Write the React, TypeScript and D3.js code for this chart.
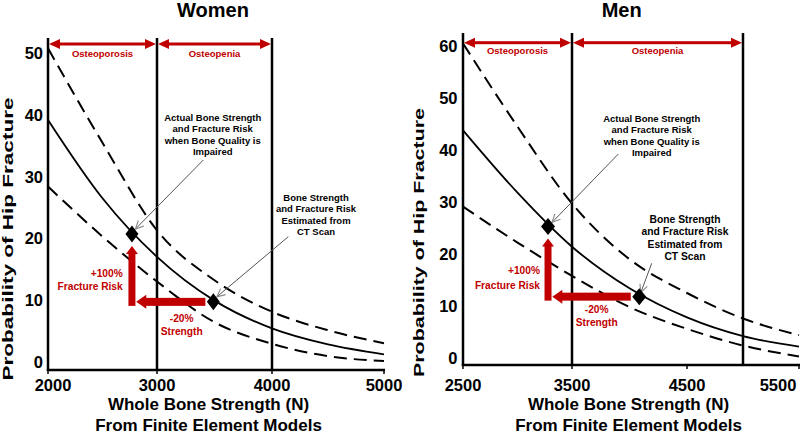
import React from "react";
import * as d3 from "d3";

// ---------- data ----------
const womenStrength = [2000, 2500, 3000, 3500, 4000, 4500, 5000];
const womenUpper = [50.8, 35.5, 21.3, 13.2, 8.1, 5.1, 3.0];
const womenMean = [39.2, 26.5, 17.0, 9.9, 5.4, 2.8, 1.2];
const womenLower = [28.4, 20.3, 13.0, 6.4, 2.9, 0.9, 0.1];
const womenXTicks = [2000, 3000, 4000, 5000];
const womenYTicks = [0, 10, 20, 30, 40, 50];
const womenBounds = [2000, 3000, 4000]; // osteoporosis | osteopenia limits
const womenCT = { strength: 3490, risk: 9.7 };
const womenActual = { strength: 2770, risk: 20.7 };

const menStrength = [2500, 3000, 3500, 4000, 4500, 5000, 5500];
const menUpper = [60.5, 44.5, 29.7, 19.0, 12.5, 7.6, 4.4];
const menMean = [43.8, 31.8, 21.4, 13.4, 7.8, 4.2, 2.2];
const menLower = [29.1, 22.2, 15.8, 9.8, 5.6, 2.4, 0.3];
const menXTicks = [2500, 3500, 4500, 5500];
const menYTicks = [0, 10, 20, 30, 40, 50, 60];
const menBounds = [2500, 3500, 5000];
const menCT = { strength: 4085, risk: 11.8 };
const menActual = { strength: 3280, risk: 25.3 };

const rangeNames = ["Osteoporosis", "Osteopenia"];
const actualNote = ["Actual Bone Strength", "and Fracture Risk", "when Bone Quality is", "Impaired"];
const ctNote = ["Bone Strength", "and Fracture Risk", "Estimated from", "CT Scan"];
const riskNote = ["+100%", "Fracture Risk"];
const strengthNote = ["-20%", "Strength"];
const yTitle = "Probability of Hip Fracture";
const xTitle = ["Whole Bone Strength (N)", "From Finite Element Models"];

// ---------- styles / layout ----------
const FONT = '"Liberation Sans", Arial, Helvetica, sans-serif';
const RED = "#C00000";

const panels = [
  {
    title: "Women",
    strength: womenStrength, upper: womenUpper, mean: womenMean, lower: womenLower,
    xTicks: womenXTicks, yTicks: womenYTicks, bounds: womenBounds,
    ct: womenCT, actual: womenActual,
    layout: {
      titleX: 213, titleY: 17,
      xRange: [48, 157, 272, 384], yRange: [361.7, 53.3],
      axisY: 370, lineTop: 38, rangeY: 44, rangeLabelY: 57.4,
      yTickX: 43, yLabelX: 13, yLabelCY: 239, yLabelLen: 283,
      xTickY: 390.8, xClamp: [53, 800], xTitleX: 208.5, xTitleY: [410, 430.5],
      actual: { x: 212.7, y: 120.7, size: 9.5, lh: 11.4, from: [203.3, 160], off: [3.5, -5] },
      ct: { x: 316, y: 200.7, size: 9.5, lh: 11.4, from: [288.3, 236.7], off: [3.5, -5] },
      risk: { x: 122.7, y: 277, lh: 13.4 },
      str: { x: 181.7, y: 322, lh: 13.4 },
      diamond: [6.5, 8.5],
    },
  },
  {
    title: "Men",
    strength: menStrength, upper: menUpper, mean: menMean, lower: menLower,
    xTicks: menXTicks, yTicks: menYTicks, bounds: menBounds,
    ct: menCT, actual: menActual,
    layout: {
      titleX: 621.7, titleY: 17,
      xRange: [463, 572, 687, 799], yRange: [358, 46],
      axisY: 365, lineTop: 33, rangeY: 42.7, rangeLabelY: 54,
      yTickX: 457.5, yLabelX: 424, yLabelCY: 242.5, yLabelLen: 269,
      xTickY: 390.5, xClamp: [0, 778], xTitleX: 628.5, xTitleY: [410, 430.5],
      actual: { x: 651.7, y: 121.7, size: 9.5, lh: 11.5, from: [618.3, 154], off: [4, -4] },
      ct: { x: 685, y: 223, size: 10.3, lh: 12.4, from: [651.7, 263.3], off: [1.5, -4] },
      risk: { x: 540, y: 274.3, lh: 14.3 },
      str: { x: 596.7, y: 313, lh: 13.4 },
      diamond: [7, 8.5],
    },
  },
];

function Txt({ x, y, size, anchor = "middle", fill = "#000", sy = 1, children }: any) {
  return (
    <text
      transform={`translate(${x},${y}) scale(1,${sy})`}
      fontSize={size}
      textAnchor={anchor}
      fill={fill}
      fontWeight="bold"
      fontFamily={FONT}
    >
      {children}
    </text>
  );
}

function DoubleArrow({ x1, x2, y }: any) {
  const hl = 11, hw = 5;
  return (
    <g fill={RED} stroke="none">
      <rect x={x1 + hl - 1} y={y - 1.5} width={x2 - x1 - 2 * hl + 2} height={3} />
      <polygon points={`${x1 + 1},${y} ${x1 + 1 + hl},${y - hw} ${x1 + 1 + hl},${y + hw}`} />
      <polygon points={`${x2 - 1},${y} ${x2 - 1 - hl},${y - hw} ${x2 - 1 - hl},${y + hw}`} />
    </g>
  );
}

function Pointer({ from, to }: any) {
  const [x1, y1] = from;
  const [x2, y2] = to;
  const ang = Math.atan2(y1 - y2, x1 - x2);
  const L = 9, a = 0.45;
  const p1 = [x2 + L * Math.cos(ang + a), y2 + L * Math.sin(ang + a)];
  const p2 = [x2 + L * Math.cos(ang - a), y2 + L * Math.sin(ang - a)];
  return (
    <g fill="none">
      <line x1={x1} y1={y1} x2={x2} y2={y2} stroke="#555" strokeWidth={1} />
      <polyline points={`${p1[0]},${p1[1]} ${x2},${y2} ${p2[0]},${p2[1]}`} stroke="#888" strokeWidth={1.1} />
    </g>
  );
}

function Panel({ p }: any) {
  const L = p.layout;
  const xs = d3.scaleLinear().domain(p.xTicks).range(L.xRange);
  const yMax = p.yTicks[p.yTicks.length - 1];
  const ys = d3.scaleLinear().domain([0, yMax]).range(L.yRange);
  const line = d3
    .line<number>()
    .x((_, i) => xs(p.strength[i]))
    .y((d) => ys(d))
    .curve(d3.curveMonotoneX);

  const x0 = xs(p.xTicks[0]);
  const xEnd = xs(p.xTicks[p.xTicks.length - 1]);
  const ax = xs(p.actual.strength), ay = ys(p.actual.risk);
  const cx = xs(p.ct.strength), cy = ys(p.ct.risk);
  const [dw, dh] = L.diamond;
  const diamond = (x: number, y: number) => `M${x},${y - dh} L${x + dw},${y} L${x},${y + dh} L${x - dw},${y} Z`;

  // red L-shaped arrows
  const vW = 7, vHeadW = 12, vHeadL = 8;
  const vTip = ay + dh + 3.5;
  const hT = 8, hHeadH = 14, hHeadL = 10;
  const hTip = ax + 4.3;
  const hRight = cx - dw - 1.5;
  const vBottom = cy + hT / 2;

  return (
    <g>
      <Txt x={L.titleX} y={L.titleY} size={20}>{p.title}</Txt>

      {/* curves */}
      <path d={line(p.upper) || ""} fill="none" stroke="#000" strokeWidth={2} strokeDasharray="13,7" />
      <path d={line(p.lower) || ""} fill="none" stroke="#000" strokeWidth={2} strokeDasharray="13,7" />
      <path d={line(p.mean) || ""} fill="none" stroke="#000" strokeWidth={1.8} />

      {/* vertical boundary lines (first one = y axis) */}
      {p.bounds.map((b: number, i: number) => (
        <line key={i} x1={xs(b)} x2={xs(b)} y1={L.lineTop} y2={L.axisY + 1} stroke="#000" strokeWidth={2.5} />
      ))}
      {/* x axis */}
      <line x1={x0 - 1.2} x2={xEnd + 1} y1={L.axisY} y2={L.axisY} stroke="#000" strokeWidth={2.5} />
      {p.xTicks.map((t: number) => (
        <line key={t} x1={xs(t)} x2={xs(t)} y1={L.axisY} y2={L.axisY + 4} stroke="#000" strokeWidth={1.5} />
      ))}
      {p.xTicks.map((t: number) => (
        <Txt key={"l" + t} x={Math.min(Math.max(xs(t), L.xClamp[0]), L.xClamp[1])} y={L.xTickY} size={16.5}>
          {String(t)}
        </Txt>
      ))}
      {p.yTicks.map((t: number) => (
        <Txt key={"y" + t} x={L.yTickX} y={ys(t) + 6} size={16.5} anchor="end">
          {String(t)}
        </Txt>
      ))}

      {/* axis titles */}
      <text
        transform={`translate(${L.yLabelX},${L.yLabelCY}) rotate(-90)`}
        fontSize={14}
        fontWeight="bold"
        fontFamily={FONT}
        textAnchor="middle"
        textLength={L.yLabelLen}
        lengthAdjust="spacingAndGlyphs"
      >
        {yTitle}
      </text>
      {xTitle.map((s, i) => (
        <Txt key={s} x={L.xTitleX} y={L.xTitleY[i]} size={17}>{s}</Txt>
      ))}

      {/* range arrows */}
      {rangeNames.map((n, i) => {
        const a = xs(p.bounds[i]);
        const b = xs(p.bounds[i + 1]);
        return (
          <g key={n}>
            <DoubleArrow x1={a} x2={b} y={L.rangeY} />
            <Txt x={(a + b) / 2} y={L.rangeLabelY} size={9.5} fill={RED}>{n}</Txt>
          </g>
        );
      })}

      {/* red change arrows */}
      <g fill={RED}>
        <rect x={ax - vW / 2} y={vTip + vHeadL - 0.5} width={vW} height={vBottom - vTip - vHeadL + 0.5} />
        <polygon points={`${ax},${vTip} ${ax - vHeadW / 2},${vTip + vHeadL} ${ax + vHeadW / 2},${vTip + vHeadL}`} />
        <rect x={hTip + hHeadL - 0.5} y={cy - hT / 2} width={hRight - hTip - hHeadL + 0.5} height={hT} />
        <polygon points={`${hTip},${cy} ${hTip + hHeadL},${cy - hHeadH / 2} ${hTip + hHeadL},${cy + hHeadH / 2}`} />
      </g>
      {riskNote.map((s, i) => (
        <Txt key={s} x={L.risk.x} y={L.risk.y + i * L.risk.lh} size={10.2} anchor="end" fill={RED}>{s}</Txt>
      ))}
      {strengthNote.map((s, i) => (
        <Txt key={s} x={L.str.x} y={L.str.y + i * L.str.lh} size={10.2} fill={RED}>{s}</Txt>
      ))}

      {/* annotations */}
      {actualNote.map((s, i) => (
        <Txt key={s} x={L.actual.x} y={L.actual.y + i * L.actual.lh} size={L.actual.size}>{s}</Txt>
      ))}
      {ctNote.map((s, i) => (
        <Txt key={"c" + s} x={L.ct.x} y={L.ct.y + i * L.ct.lh} size={L.ct.size}>{s}</Txt>
      ))}
      <Pointer from={L.actual.from} to={[ax + L.actual.off[0], ay + L.actual.off[1]]} />
      <Pointer from={L.ct.from} to={[cx + L.ct.off[0], cy + L.ct.off[1]]} />

      {/* diamonds */}
      <path d={diamond(ax, ay)} fill="#000" />
      <path d={diamond(cx, cy)} fill="#000" />
    </g>
  );
}

export default function App() {
  return (
    <svg
      width={800}
      height={433}
      viewBox="0 0 800 433"
      style={{ position: "absolute", left: 0, top: 0, background: "#fff" }}
    >
      <rect width={800} height={433} fill="#fff" />
      {panels.map((p) => (
        <Panel key={p.title} p={p} />
      ))}
    </svg>
  );
}
